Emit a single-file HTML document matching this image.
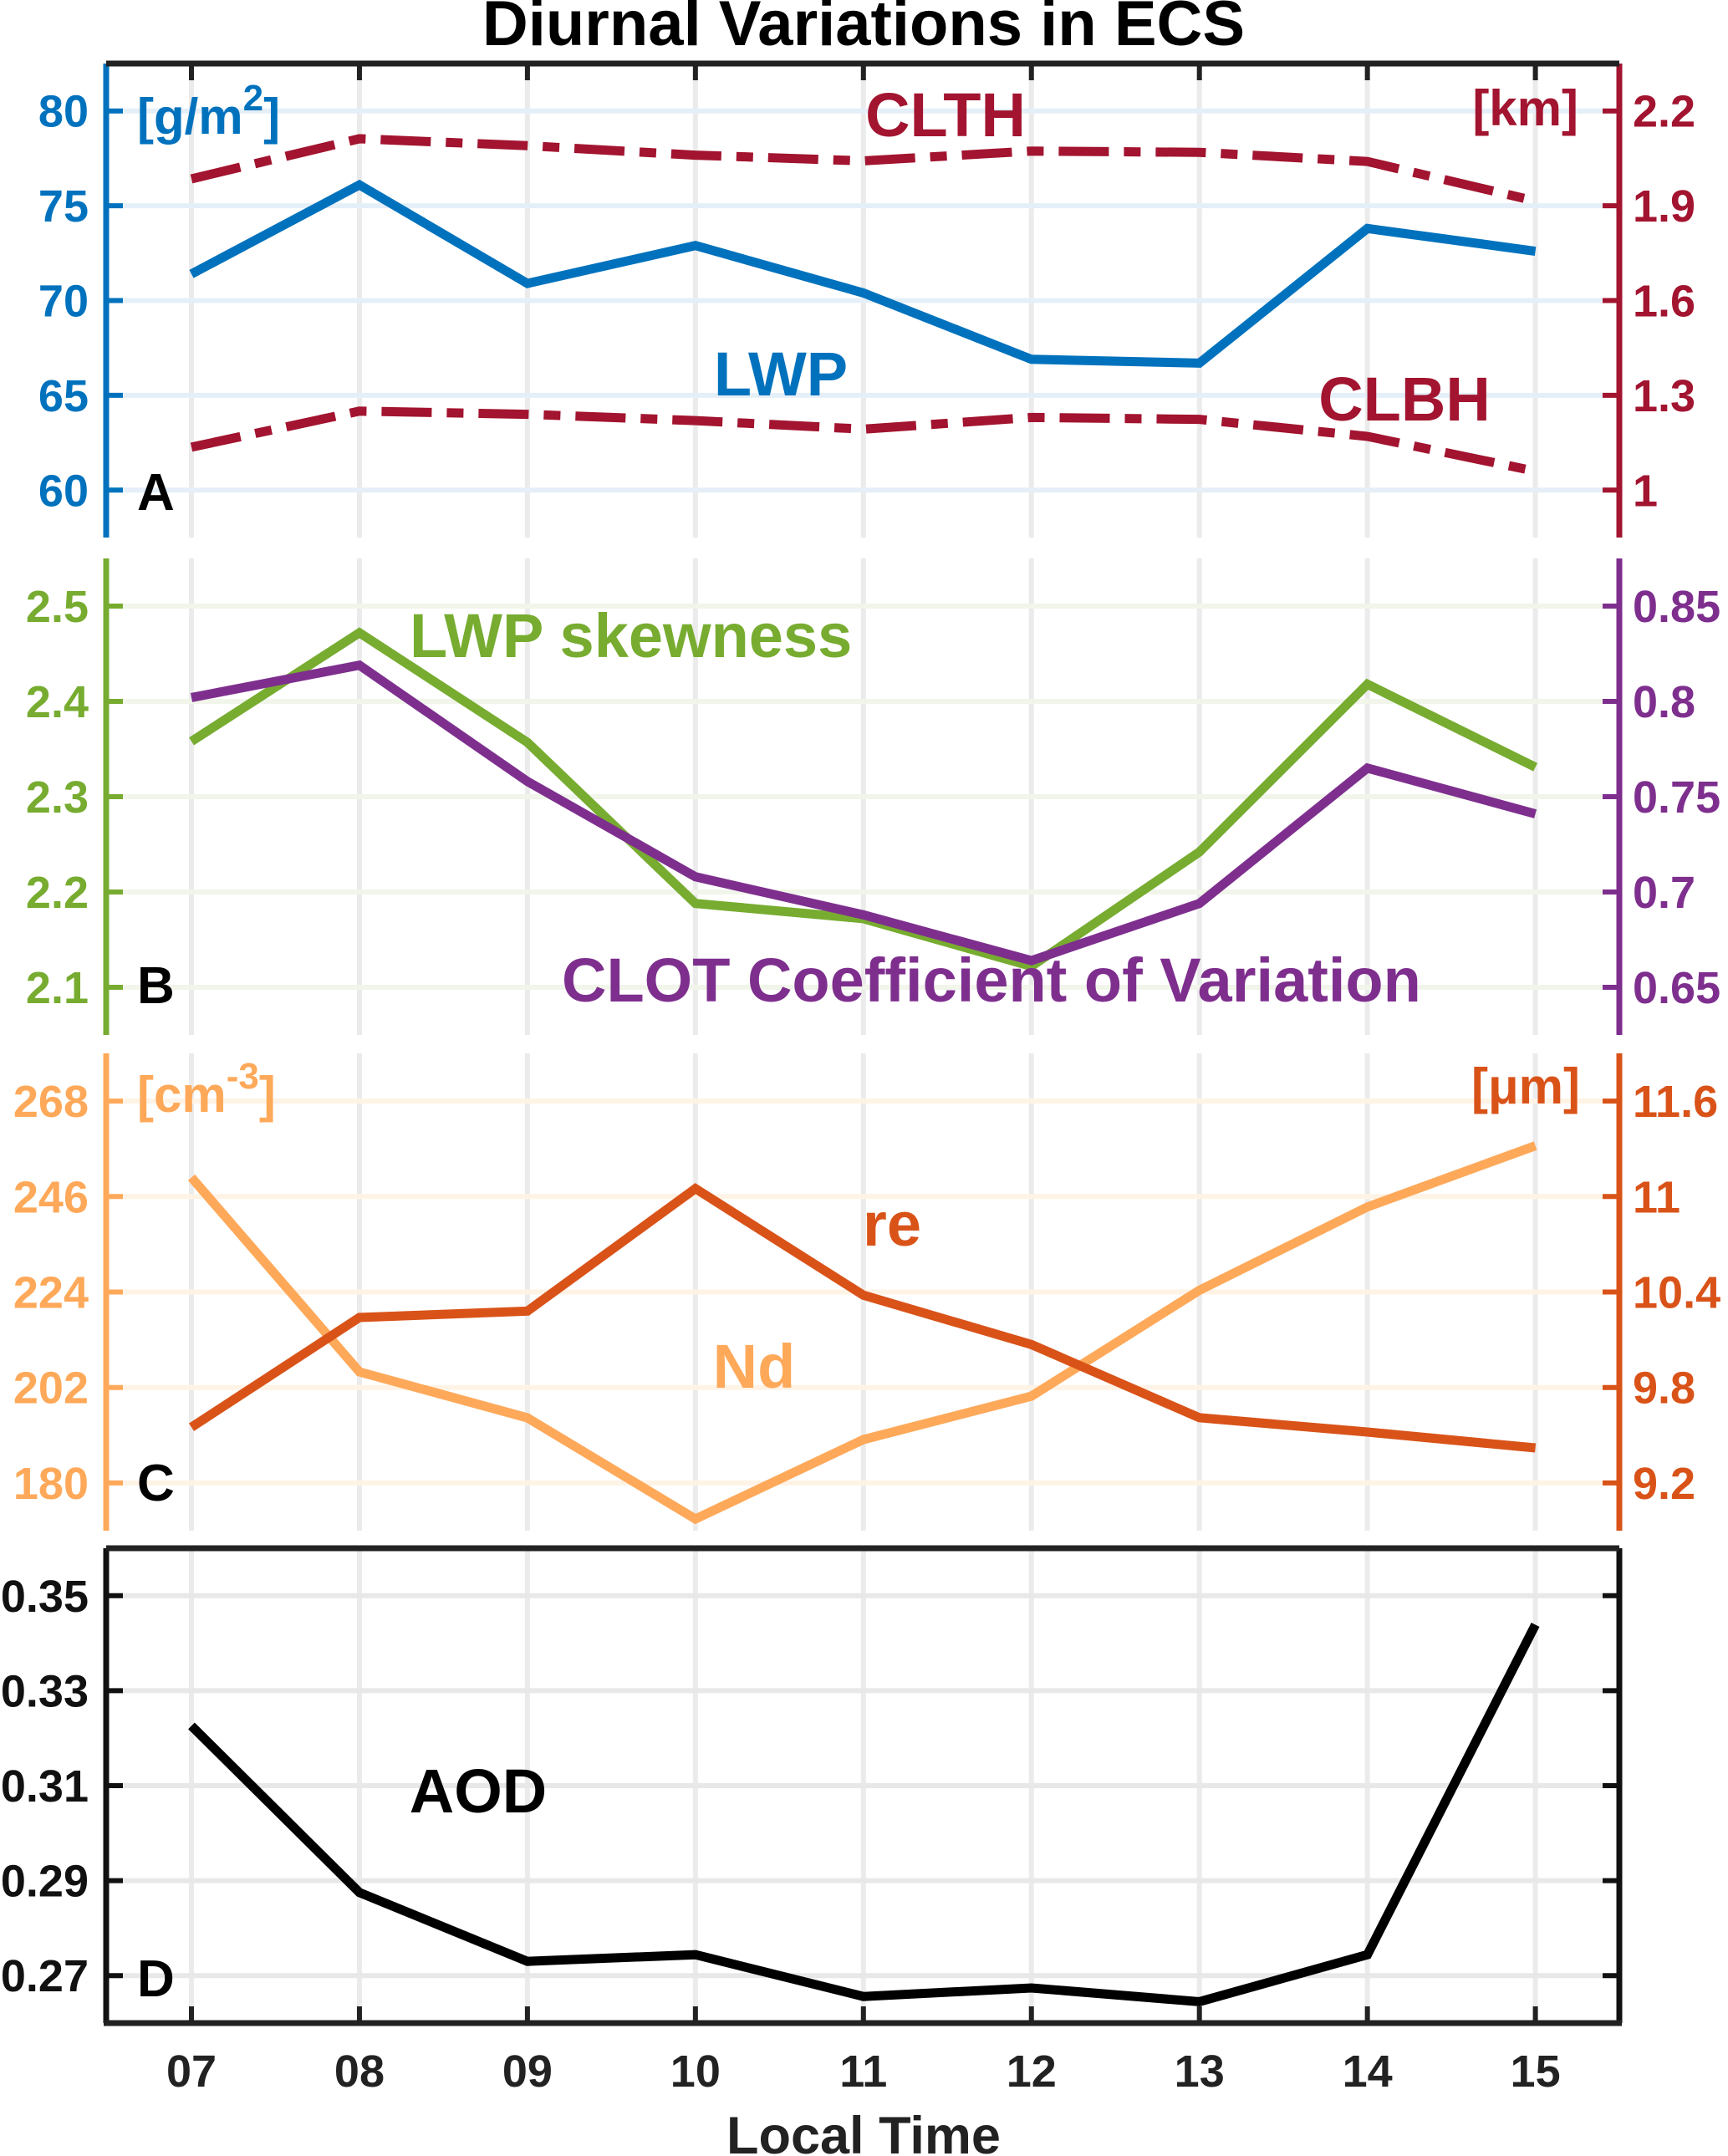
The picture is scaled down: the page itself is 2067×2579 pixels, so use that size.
<!DOCTYPE html>
<html><head><meta charset="utf-8"><style>
html,body{margin:0;padding:0;background:#fff}
svg{display:block}
text{font-family:"Liberation Sans",Arial,sans-serif;font-weight:bold}
</style></head><body>
<svg id="chart" width="2067" height="2579" viewBox="0 0 2067 2579" xmlns="http://www.w3.org/2000/svg">
<text x="1033" y="54" font-size="76" text-anchor="middle" fill="#000">Diurnal Variations in ECS</text>
<g id="layer"></g>
</svg>
<script>
const hours = ["07","08","09","10","11","12","13","14","15"];
const lwp = [71.4,76.1,70.9,72.9,70.4,66.9,66.7,73.8,72.6];
const clth = [1.985,2.112,2.09,2.06,2.042,2.073,2.069,2.04,1.915];
const clbh = [1.136,1.25,1.24,1.22,1.193,1.23,1.224,1.17,1.06];
const skew = [2.358,2.472,2.357,2.188,2.172,2.122,2.242,2.418,2.331];
const clotCv = [0.802,0.819,0.758,0.708,0.688,0.664,0.694,0.765,0.741];
const nd = [250.4,205.6,195,171.7,190,200,224.4,243.6,257.7];
const re = [9.55,10.24,10.28,11.05,10.38,10.07,9.61,9.52,9.42];
const aod = [0.3226,0.2875,0.273,0.2744,0.2656,0.2674,0.2645,0.2744,0.3439];
const ticksA = ["60","65","70","75","80"];
const ticksAR = ["1","1.3","1.6","1.9","2.2"];
const ticksB = ["2.1","2.2","2.3","2.4","2.5"];
const ticksBR = ["0.65","0.7","0.75","0.8","0.85"];
const ticksC = ["180","202","224","246","268"];
const ticksCR = ["9.2","9.8","10.4","11","11.6"];
const ticksD = ["0.27","0.29","0.31","0.33","0.35"];

const NS="http://www.w3.org/2000/svg";
const L=document.getElementById('layer');
const XL=127, XR=1937;
function xs(i){return 229+i*(1836.6-229)/8;}
function mk(tag,attrs){const e=document.createElementNS(NS,tag);for(const k in attrs)e.setAttribute(k,attrs[k]);L.appendChild(e);return e;}
function scale(lo,hi,top,bot){return v=>bot-(v-lo)/(hi-lo)*(bot-top);}

const panels=[
 {name:'a',top:76,bot:643,lo:57.5,hi:82.5,rlo:0.85,rhi:2.35,lc:'#0072BD',rc:'#A2142F',lt:ticksA,rt:ticksAR,grid:'#E5EFF8'},
 {name:'b',top:668,bot:1238,lo:2.05,hi:2.55,rlo:0.625,rhi:0.875,lc:'#77AC30',rc:'#7E2F8E',lt:ticksB,rt:ticksBR,grid:'#F1F5EA'},
 {name:'c',top:1260,bot:1831,lo:169,hi:279,rlo:8.9,rhi:11.9,lc:'#FEA95A',rc:'#D95319',lt:ticksC,rt:ticksCR,grid:'#FFF3E6'},
 {name:'d',top:1852,bot:2420,lo:0.26,hi:0.36,rlo:null,lc:'#111',rc:'#111',lt:ticksD,rt:null,grid:'#E8E8E8'}
];
panels.forEach(p=>{
  p.y=scale(p.lo,p.hi,p.top,p.bot);
  if(p.rlo!==null)p.yr=scale(p.rlo,p.rhi,p.top,p.bot);
  hours.forEach((h,i)=>{
    const g=mk('line',{x1:xs(i),x2:xs(i),y1:p.top,y2:p.bot,stroke:'#EBEBEB','stroke-width':6});
    
    
  });
  p.lt.forEach(t=>{
    const y=p.y(parseFloat(t));
    const g=mk('line',{x1:XL,x2:XR,y1:y,y2:y,stroke:p.grid,'stroke-width':6});
    
    
    const tk=mk('line',{x1:XL,x2:XL+20,y1:y,y2:y,stroke:p.lc,'stroke-width':6});
    
    
    const tx=mk('text',{x:106,y:y+19,'font-size':54,'text-anchor':'end',fill:p.lc});
    tx.textContent=t;
    
    
    if(p.rlo===null){
      const tk2=mk('line',{x1:XR-20,x2:XR,y1:y,y2:y,stroke:'#111','stroke-width':6});
      
      
    }
  });
  if(p.rt){p.rt.forEach(t=>{
    const y=p.yr(parseFloat(t));
    const tk=mk('line',{x1:XR-20,x2:XR,y1:y,y2:y,stroke:p.rc,'stroke-width':6});
    
    
    const tx=mk('text',{x:1953,y:y+19,'font-size':54,'text-anchor':'start',fill:p.rc});
    tx.textContent=t;
    
    
  });}
  const la=mk('line',{x1:XL,x2:XL,y1:p.top,y2:p.bot,stroke:p.lc,'stroke-width':7});
  
  
  const ra=mk('line',{x1:XR,x2:XR,y1:p.top,y2:p.bot,stroke:p.rc,'stroke-width':7});
  
  
});
const pa=panels[0], pd=panels[3];
const tb=mk('line',{x1:XL,x2:XR,y1:pa.top,y2:pa.top,stroke:'#222','stroke-width':7});


const tdd=mk('line',{x1:XL,x2:XR,y1:pd.top,y2:pd.top,stroke:'#222','stroke-width':7});


const bb=mk('line',{x1:XL-3,x2:XR+3,y1:pd.bot,y2:pd.bot,stroke:'#222','stroke-width':7});


hours.forEach((h,i)=>{
  const t1=mk('line',{x1:xs(i),x2:xs(i),y1:pa.top,y2:pa.top+20,stroke:'#222','stroke-width':6});
  
  
  const t2=mk('line',{x1:xs(i),x2:xs(i),y1:pd.bot-20,y2:pd.bot,stroke:'#222','stroke-width':6});
  
  
  const tx=mk('text',{x:xs(i),y:2496,'font-size':54,'text-anchor':'middle',fill:'#222'});
  tx.textContent=h;
  
  
});
const xt=mk('text',{x:1033,y:2576,'font-size':63,'text-anchor':'middle',fill:'#222'});
xt.textContent='Local Time';



function series(vals,yf,color,name,dash){
  const pts=vals.map((v,i)=>xs(i)+','+yf(v)).join(' ');
  const a={points:pts,fill:'none',stroke:color,'stroke-width':11,'stroke-linejoin':'miter'};
  if(dash)a['stroke-dasharray']=dash;
  const e=mk('polyline',a);
  
  
}
series(clth,pa.yr,'#A2142F','clth-line','60 18 20 18');
series(clbh,pa.yr,'#A2142F','clbh-line','60 18 20 18');
series(lwp,pa.y,'#0072BD','lwp-line');
series(skew,panels[1].y,'#77AC30','lwp-skewness-line');
series(clotCv,panels[1].yr,'#7E2F8E','clot-cv-line');
series(nd,panels[2].y,'#FEA95A','nd-line');
series(re,panels[2].yr,'#D95319','re-line');
series(aod,pd.y,'#000','aod-line');

function label(txt,x,y,color,name,anchor,size){
  const t=mk('text',{x:x,y:y,'font-size':size||74,'text-anchor':anchor||'start',fill:color});
  t.textContent=txt;
  
  
  return t;
}
const u1=label('[g/m','164','160','#0072BD','unit-lwp','start',60);
const s1=document.createElementNS(NS,'tspan');s1.setAttribute('dy','-28');s1.setAttribute('font-size','44');s1.textContent='2';u1.appendChild(s1);
const s1b=document.createElementNS(NS,'tspan');s1b.setAttribute('dy','28');s1b.textContent=']';u1.appendChild(s1b);
label('[km]',1888,150,'#A2142F','unit-km','end',60);
label('CLTH',1131,163,'#A2142F','clth-label','middle');
label('LWP',934,473,'#0072BD','lwp-label','middle');
label('CLBH',1680,503,'#A2142F','clbh-label','middle');
label('A',164,610,'#000','panel-a-label','start',62);
label('LWP skewness',490,786,'#77AC30','lwp-skewness-label','start');
label('B',164,1200,'#000','panel-b-label','start',62);
label('CLOT Coefficient of Variation',672,1198,'#7E2F8E','clot-cv-label','start');
const u3=label('[cm',164,1330,'#FEA95A','unit-cm','start',60);
const s3=document.createElementNS(NS,'tspan');s3.setAttribute('dy','-28');s3.setAttribute('font-size','44');s3.textContent='-3';u3.appendChild(s3);
const s3b=document.createElementNS(NS,'tspan');s3b.setAttribute('dy','28');s3b.textContent=']';u3.appendChild(s3b);
label('[μm]',1890,1320,'#D95319','unit-um','end',60);
label('re',1067,1490,'#D95319','re-label','middle');
label('Nd',902,1660,'#FEA95A','nd-label','middle');
label('C',164,1795,'#000','panel-c-label','start',62);
label('AOD',572,2168,'#000','aod-label','middle');
label('D',164,2388,'#000','panel-d-label','start',62);
</script>
</body></html>
